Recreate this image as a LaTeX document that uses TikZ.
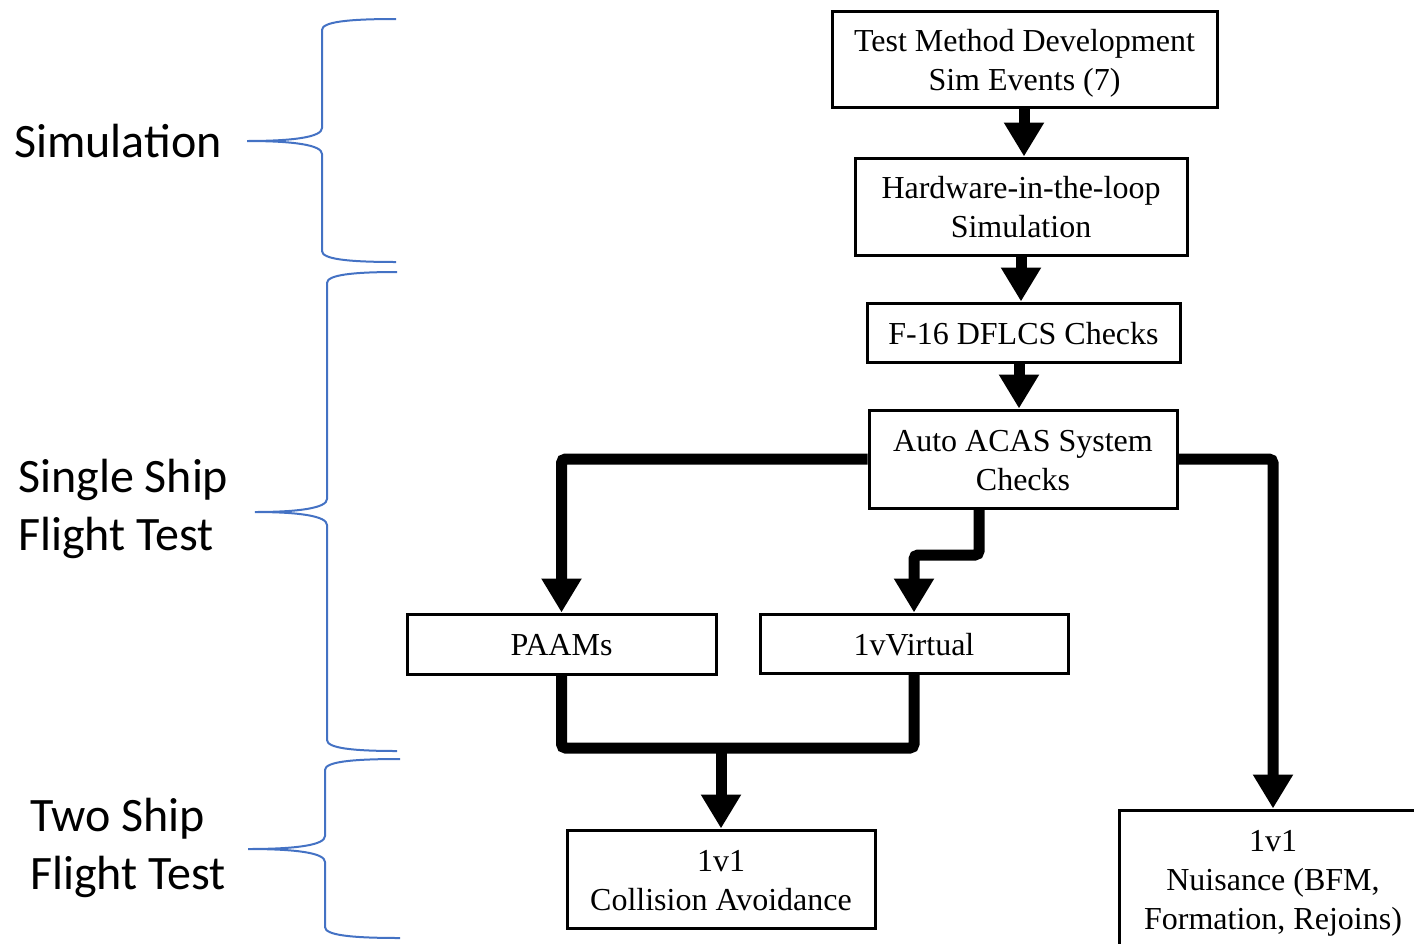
\documentclass[tikz,border=0pt]{standalone}
\usepackage{fontspec}
\setmainfont{Liberation Serif}
\newfontfamily\labelfont{Carlito}
\usetikzlibrary{arrows.meta, calc, positioning}
\definecolor{braceblue}{RGB}{68,114,196}

% curly brace: x of the stem, x of the free ends, x of the tip, y top, y tip, y bottom
\newcommand\sidebrace[6]{%
  \draw[brace] (#2,#4) .. controls ({#1+25},#4) and (#1,{#4+3}) .. (#1,{#4+11})
    -- (#1,{#5-13}) .. controls (#1,{#5-4}) and ({#1-28},#5) .. (#3,#5)
    .. controls ({#1-28},#5) and (#1,{#5+4}) .. (#1,{#5+13})
    -- (#1,{#6-11}) .. controls (#1,{#6-3}) and ({#1+25},#6) .. (#2,#6);}

\begin{document}
\begin{tikzpicture}[x=1pt,y=-1pt,
  box/.style={draw,line width=3pt,align=center,inner sep=0pt,
    font=\fontsize{32}{39}\selectfont,text height=31pt,text depth=8pt},
  twolines/.style={text height=70pt},
  threelines/.style={text height=109pt},
  flow/.style={line width=11pt,rounded corners=4pt,
    -{Triangle[length=34pt,width=38pt]}},
  flowline/.style={line width=11pt,rounded corners=4pt},
  side/.style={anchor=west,align=left,inner sep=0pt,
    font=\labelfont\fontsize{48}{58}\selectfont},
  brace/.style={braceblue,line width=2pt}]
\clip (0,0) rectangle (1414,943);

%
\node[side] (simlabel) at (14,141) {Simulation};
\node[side] (singlelabel) at (18,509) {Single Ship\\Flight Test};
\node[side] (twolabel) at (30,848) {Two Ship\\Flight Test};

\sidebrace{322}{396}{247}{19}{141}{262}
\sidebrace{327}{397}{255}{272}{512}{751}
\sidebrace{325}{400}{248}{759}{849}{938}

%
\node[box,twolines,minimum width=385,minimum height=96] (test) at (1024.5,59) {Test Method Development\\Sim Events (7)};
\node[box,twolines,minimum width=332,minimum height=97] (hil) at (1021,206.5) {Hardware-in-the-loop\\Simulation};
\node[box,minimum width=313,minimum height=59] (dflcs) at (1023.5,332.5) {F-16 DFLCS Checks};
\node[box,twolines,minimum width=308,minimum height=98] (auto) at (1023,459) {Auto ACAS System\\Checks};
\node[box,minimum width=309,minimum height=60] (paams) at (561.5,644) {PAAMs};
\node[box,minimum width=308,minimum height=59] (virt) at (914,643.5) {1vVirtual};
\node[box,twolines,minimum width=308,minimum height=98] (ca) at (721,879) {1v1\\Collision Avoidance};
\node[box,threelines,minimum width=308,minimum height=137] (nuis) at (1273,878.5) {1v1\\Nuisance (BFM,\\Formation, Rejoins)};

%
\coordinate (vbend) at (979,555);
\coordinate (merge) at (721,748);

\draw[flow] (1024,0 |- test.south) -- (1024,0 |- hil.north);
\draw[flow] (1021,0 |- hil.south) -- (1021,0 |- dflcs.north);
\draw[flow] (1019,0 |- dflcs.south) -- (1019,0 |- auto.north);
\draw[flow] (auto.west) -| (paams.north);
\draw[flow] (auto.east) -| (nuis.north);
\draw[flow] (auto.south -| vbend) -- (vbend) -| (virt.north);
\draw[flowline] (paams.south) |- (merge) -| (virt.south);
\draw[flow] (merge) -- (ca.north);
\end{tikzpicture}
\end{document}
